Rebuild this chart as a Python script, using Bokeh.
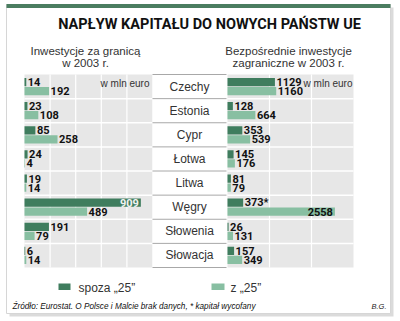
from bokeh.plotting import figure
from bokeh.models import Range1d, ColumnDataSource
from bokeh.transform import dodge
from bokeh.core.properties import value
from bokeh.embed import file_html
from bokeh.resources import INLINE

# ---------------- data ----------------
countries = ["Czechy", "Estonia", "Cypr", "Łotwa", "Litwa", "Węgry", "Słowenia", "Słowacja"]
left_outside = [14, 23, 85, 24, 19, 909, 191, 6]          # Inwestycje za granicą, spoza "25"
left_inside = [192, 108, 258, 4, 14, 489, 79, 14]         # Inwestycje za granicą, z "25"
right_outside = [1129, 128, 353, 145, 81, 373, 26, 157]   # BIZ, spoza "25"
right_inside = [1160, 664, 539, 176, 79, 2558, 131, 349]  # BIZ, z "25"
withdrawn = ["Węgry"]                                     # * kapitał wycofany (BIZ spoza "25")
left_grid = [200, 400, 600, 800]
left_max = 1000
right_grid = [1000, 2000]
right_max = 3000

title = "NAPŁYW KAPITAŁU DO NOWYCH PAŃSTW UE"
left_sub = ["Inwestycje za granicą", "w 2003 r."]
right_sub = ["Bezpośrednie inwestycje", "zagraniczne w 2003 r."]
unit = "w mln euro"
legend_labels = ["spoza „25”", "z „25”"]
source_txt = "Źródło: Eurostat. O Polsce i Malcie brak danych, * kapitał wycofany"
author = "B.G."

# ---------------- style / layout ----------------
W, H = 400, 321
DARK = "#3f7d5e"
LIGHT = "#88bfa2"
PANEL = "#e7e7e7"
TXT = "#333333"
BOLDF = "Liberation Sans Narrow, Roboto"
SANS = "Liberation Sans"

L0, L1 = 24, 152      # left panel px
C0, C1 = 152, 226     # centre column px
R0, R1 = 227, 353     # right panel px
TOP, RH = 74, 24.125  # rows
n = len(countries)

p = figure(width=W, height=H, output_backend="svg", toolbar_location=None,
           x_range=Range1d(0, W), y_range=Range1d(H, 0),
           x_axis_location=None, y_axis_location=None, min_border=0)
p.outline_line_color = None
p.grid.visible = False
p.background_fill_color = "white"
p.border_fill_color = "white"

kL = (L1 - L0) / left_max
kR = (R1 - R0) / right_max
p.extra_x_ranges = {
    "left": Range1d(-L0 / kL, (W - L0) / kL),
    "right": Range1d(-R0 / kR, (W - R0) / kR),
}
p.extra_y_ranges = {"rows": Range1d((H - TOP) / RH - 0.5, -TOP / RH - 0.5)}

# card with shadow and green top bar
p.quad(left=[9], right=[393], top=[7], bottom=[316], fill_color="#cccccc", fill_alpha=0.7, line_color=None)
p.quad(left=[6], right=[390], top=[4], bottom=[313], fill_color="white", line_color="#d6d6d6")
p.quad(left=[6], right=[390], top=[3.5], bottom=[7.5], fill_color="#4b7d60", line_color=None)

# title and subtitles
p.text(x=[209], y=[23.5], text=[title], text_font=value(BOLDF), text_font_style="bold",
       text_font_size="14.5px", text_color="#111111", text_align="center", text_baseline="middle")
for k, line in enumerate(left_sub):
    p.text(x=[85], y=[50 + 12 * k], text=[line], text_font=value(SANS), text_font_size="11.5px",
           text_color=TXT, text_align="center", text_baseline="middle")
for k, line in enumerate(right_sub):
    p.text(x=[288], y=[50 + 12 * k], text=[line], text_font=value(SANS), text_font_size="11.5px",
           text_color=TXT, text_align="center", text_baseline="middle")

idx = list(range(n))
bounds = [i - 0.5 for i in range(n + 1)]

# panel backgrounds, grid and row separators
for rng, mx, grid in (("left", left_max, left_grid), ("right", right_max, right_grid)):
    p.quad(left=[0], right=[mx], top=[-0.5], bottom=[n - 0.5], x_range_name=rng, y_range_name="rows",
           fill_color=PANEL, line_color=None)
    p.segment(x0=grid, x1=grid, y0=[-0.5] * len(grid), y1=[n - 0.5] * len(grid),
              x_range_name=rng, y_range_name="rows", line_color="white", line_width=1.2)
    p.segment(x0=[0] * (n - 1), x1=[mx] * (n - 1), y0=bounds[1:-1], y1=bounds[1:-1],
              x_range_name=rng, y_range_name="rows", line_color="white", line_width=1.5)

# centre column
p.quad(left=[C0], right=[C1], top=[-0.5], bottom=[n - 0.5], y_range_name="rows",
       fill_color="white", line_color=None)
p.segment(x0=[C0] * (n + 1), x1=[C1] * (n + 1), y0=bounds, y1=bounds, y_range_name="rows",
          line_color="#a8a8a8", line_width=1)
p.text(x=[(C0 + C1) / 2] * n, y=idx, text=countries, y_range_name="rows", text_font=value(SANS),
       text_font_size="12px", text_color=TXT, text_align="center", text_baseline="middle")

# units
p.text(x=[L1 - 3], y=[TOP + 9], text=[unit], text_font=value(SANS), text_font_size="10px",
       text_color=TXT, text_align="right", text_baseline="middle")
p.text(x=[R1 - 1], y=[TOP + 9], text=[unit], text_font=value(SANS), text_font_size="10px",
       text_color=TXT, text_align="right", text_baseline="middle")

OFF = 0.185
BH = 0.34


def draw(vals, rng, mx, off, color, stars=False):
    labels = [f"{v}*" if (stars and c in withdrawn) else str(v) for v, c in zip(vals, countries)]
    src = ColumnDataSource(dict(idx=idx, v=vals, lbl=labels))
    p.hbar(y=dodge("idx", off), left=0, right="v", height=BH, source=src,
           x_range_name=rng, y_range_name="rows", fill_color=color, line_color=None)
    out = [i for i, v in enumerate(vals) if v / mx <= 0.8]
    ins = [i for i, v in enumerate(vals) if v / mx > 0.8]
    so = ColumnDataSource(dict(idx=[idx[i] for i in out], v=[vals[i] for i in out], lbl=[labels[i] for i in out]))
    p.text(x="v", y=dodge("idx", off), text="lbl", source=so, x_offset=1.5,
           x_range_name=rng, y_range_name="rows", text_font=value(BOLDF), text_font_style="bold",
           text_font_size="11px", text_color="#111111", text_align="left", text_baseline="middle")
    if ins:
        si = ColumnDataSource(dict(idx=[idx[i] for i in ins], v=[vals[i] for i in ins], lbl=[labels[i] for i in ins]))
        p.text(x="v", y=dodge("idx", off), text="lbl", source=si, x_offset=-2,
               x_range_name=rng, y_range_name="rows", text_font=value(BOLDF), text_font_style="bold",
               text_font_size="11px", text_color="#f2f2f2" if color == DARK else "#111111",
               text_align="right", text_baseline="middle")


draw(left_outside, "left", left_max, -OFF, DARK)
draw(left_inside, "left", left_max, OFF, LIGHT)
draw(right_outside, "right", right_max, -OFF, DARK, stars=True)
draw(right_inside, "right", right_max, OFF, LIGHT)

# legend
p.quad(left=[58], right=[70], top=[283], bottom=[289.5], fill_color=DARK, line_color=None)
p.text(x=[78], y=[287], text=[legend_labels[0]], text_font=value(SANS), text_font_size="12px",
       text_color=TXT, text_align="left", text_baseline="middle")
p.quad(left=[211], right=[224], top=[283], bottom=[289.5], fill_color=LIGHT, line_color=None)
p.text(x=[230], y=[287], text=[legend_labels[1]], text_font=value(SANS), text_font_size="12px",
       text_color=TXT, text_align="left", text_baseline="middle")

# source
p.text(x=[12], y=[306], text=[source_txt], text_font=value(SANS), text_font_style="italic",
       text_font_size="8.2px", text_color="#111111", text_align="left", text_baseline="middle")
p.text(x=[386], y=[306], text=[author], text_font=value(SANS), text_font_style="italic",
       text_font_size="7.5px", text_color="#222222", text_align="right", text_baseline="middle")

open("out.html", "w").write(file_html(p, INLINE))
